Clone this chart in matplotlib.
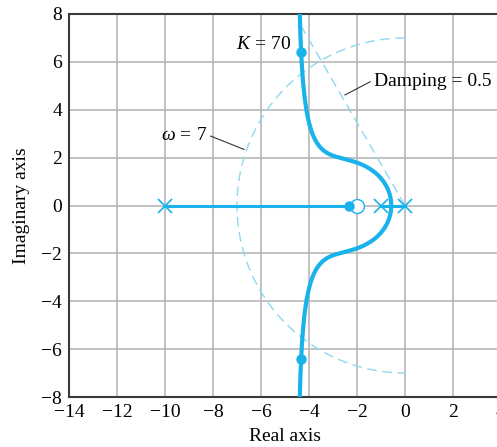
import numpy as np
import matplotlib
matplotlib.use("Agg")
import matplotlib.pyplot as plt

# ----- DATA -----
# open-loop G(s) = K (s + 2) / (s (s + 1) (s + 10))
poles = [0.0, -1.0, -10.0]
zeros = [-2.0]
k_mark = 70.0
omega_n = 7.0
zeta = 0.5
xticks = [-14, -12, -10, -8, -6, -4, -2, 0, 2, 4]
yticks = [-8, -6, -4, -2, 0, 2, 4, 6, 8]

LOCUS = "#19b2ea"
GUIDE = "#8fd8f2"
FONT = "Liberation Serif"

plt.rcParams["font.family"] = [FONT, "DejaVu Serif"]
plt.rcParams["mathtext.fontset"] = "custom"
plt.rcParams["mathtext.rm"] = FONT
plt.rcParams["mathtext.it"] = FONT + ":italic"

num = np.poly(poles)
den = np.poly(zeros)


def closed_loop_roots(k):
    return np.roots(np.polyadd(num, k * den))


# breakaway point between 0 and -1
dpoly = np.polysub(np.polymul(np.polyder(num), den), np.polymul(num, np.polyder(den)))
brk = [r.real for r in np.roots(dpoly) if abs(r.imag) < 1e-9 and -1 < r.real < 0][0]

gains = np.concatenate([np.linspace(0, 5, 4000), np.linspace(5, 400, 4000)])
upper = [complex(brk, 0)]
lower = [complex(brk, 0)]
for k in gains:
    r = closed_loop_roots(k)
    cpx = r[np.abs(r.imag) > 1e-7]
    if len(cpx):
        upper.append(cpx[np.argmax(cpx.imag)])
        lower.append(cpx[np.argmin(cpx.imag)])
upper = np.array(upper)
lower = np.array(lower)

r70 = closed_loop_roots(k_mark)
real_root = r70[np.abs(r70.imag) < 1e-7].real[0]
cpx70 = r70[np.abs(r70.imag) > 1e-7]

# ----- FIGURE -----
fig = plt.figure(figsize=(4.97, 4.47), dpi=100)
ax = fig.add_axes([69 / 497, 50 / 447, 432 / 497, 383 / 447])
ax.set_xlim(-14, 4)
ax.set_ylim(-8, 8)
ax.set_xticks(xticks)
ax.set_yticks(yticks)
ax.grid(True, color="#b8b8b8", linewidth=1.2, zorder=0)
ax.tick_params(length=0, labelsize=14, pad=5)
for side in ["left", "top", "bottom"]:
    ax.spines[side].set_color("#3a3a3a")
    ax.spines[side].set_linewidth(1.5)
ax.spines["right"].set_visible(False)

# guide curves: omega = 7 half circle and damping 0.5 ray
th = np.linspace(np.pi / 2, 3 * np.pi / 2, 300)
ax.plot(omega_n * np.cos(th), omega_n * np.sin(th), color=GUIDE, lw=1.0,
        dashes=(7, 4), zorder=2)
ang = np.pi - np.arccos(zeta)
ax.plot([0, 8.6 * np.cos(ang)], [0, 8.6 * np.sin(ang)], color=GUIDE, lw=1.0,
        dashes=(7, 4), zorder=2)

# root locus
ax.plot([poles[2], real_root], [0, 0], color=LOCUS, lw=2.2, zorder=3)
ax.plot([poles[1], poles[0]], [0, 0], color=LOCUS, lw=2.2, zorder=3)
ax.plot(upper.real, upper.imag, color=LOCUS, lw=3.0, zorder=3, solid_capstyle="butt")
ax.plot(lower.real, lower.imag, color=LOCUS, lw=3.0, zorder=3, solid_capstyle="butt")

ax.plot(poles, [0] * len(poles), "x", color=LOCUS, ms=10, mew=1.2, zorder=4)
ax.plot(zeros, [0] * len(zeros), "o", mfc="white", mec=LOCUS, ms=10, mew=1.0, zorder=4)
ax.plot([real_root] + list(cpx70.real), [0] + list(cpx70.imag), "o", color=LOCUS,
        ms=6.5, zorder=5)

# annotations
ax.text(-4.75, 6.72, r"$K\,=\,70$", ha="right", va="center", fontsize=14)
ax.text(-1.3, 5.17, "Damping = 0.5", ha="left", va="center", fontsize=14)
ax.plot([-1.45, -2.5], [5.17, 4.62], color="#333333", lw=0.8, zorder=5)
ax.text(-8.25, 2.92, r"$\omega\,=\,7$", ha="right", va="center", fontsize=14)
ax.plot([-8.1, -6.7], [2.9, 2.34], color="#333333", lw=0.8, zorder=5)

ax.set_xlabel("Real axis", fontsize=14, labelpad=5)
ax.set_ylabel("Imaginary axis", fontsize=14, labelpad=8)

fig.savefig("out.png", dpi=100)
